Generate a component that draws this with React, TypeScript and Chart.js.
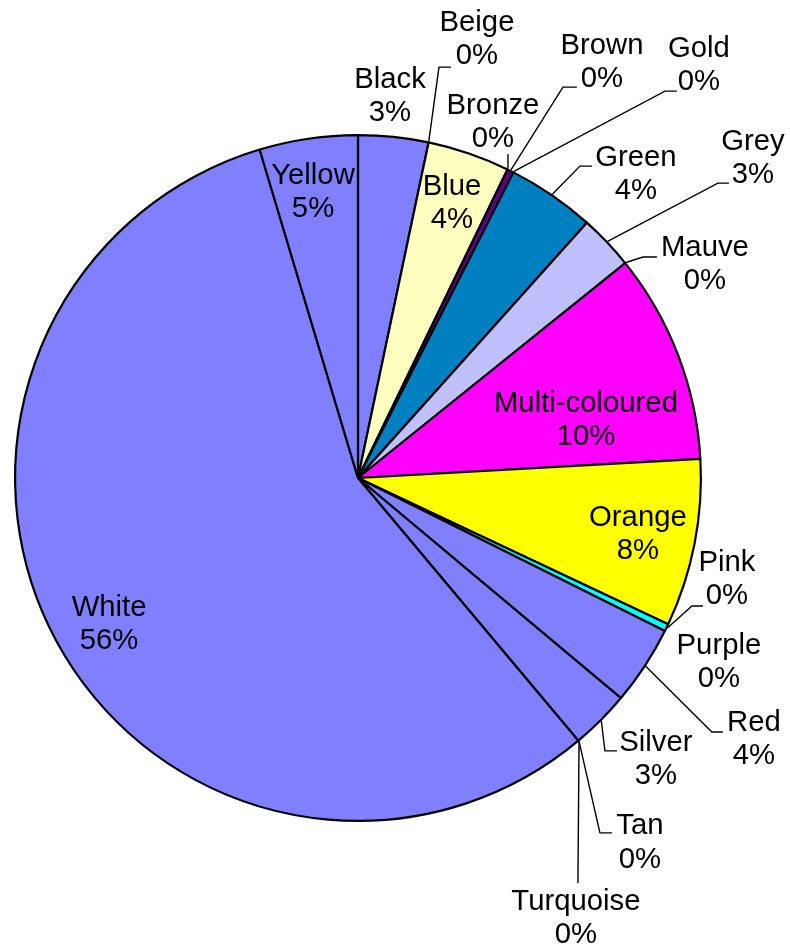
import React, { useEffect, useRef } from "react";
import { Chart, registerables } from "chart.js";

Chart.register(...registerables);

// ---- data ----
const categories = [
  "Black", "Beige", "Blue", "Bronze", "Brown", "Gold", "Green", "Grey", "Mauve",
  "Multi-coloured", "Orange", "Pink", "Purple", "Red", "Silver", "Tan", "Turquoise",
  "White", "Yellow",
];
const shares = [
  3.3, 0, 3.88, 0, 0.31, 0, 4.14, 2.59, 0,
  9.89, 7.9, 0.35, 0, 3.73, 2.8, 0, 0,
  56.48, 4.63,
];
const sliceColors = [
  "#8080FF", "#993366", "#FFFFC0", "#CCFFFF", "#600080", "#FF8080", "#0080C0", "#C0C0FF", "#000080",
  "#FF00FF", "#FFFF00", "#00FFFF", "#800080", "#8080FF", "#8080FF", "#8080FF", "#8080FF",
  "#8080FF", "#8080FF",
];

// ---- label layout (px offsets from pie centre at reference radius) ----
const REF_R = 343;
const FONT_SIZE = 29.3;
const LINE_H = 33.3;
type Lay = { l: [number, number]; e?: [number, number]; h?: [number, number] };
const labelLayout: Lay[] = [
  { l: [32, -381.5] },                                   // Black
  { l: [119, -438.5], e: [81, -411], h: [93, -411] },   // Beige
  { l: [94, -274.5] },                                   // Blue
  { l: [135, -355.5], e: [150, -324] },                  // Bronze
  { l: [244, -415.5], e: [205, -391], h: [219, -391] }, // Brown
  { l: [341, -412.5], e: [307, -387], h: [319, -387] }, // Gold
  { l: [278, -303.5], e: [222, -312], h: [234, -312] }, // Green
  { l: [395, -319.5], e: [360, -295], h: [371, -295] }, // Grey
  { l: [347, -213.5], e: [285, -221], h: [299, -221] }, // Mauve
  { l: [228, -57.5] },                                   // Multi-coloured
  { l: [280, 56.5] },                                    // Orange
  { l: [369, 101.5], e: [334, 128], h: [345, 128] },    // Pink
  { l: [361, 184.5] },                                   // Purple
  { l: [396, 261.5], e: [354, 254], h: [365, 254] },    // Red
  { l: [298, 281.5], e: [247, 273], h: [259, 273] },    // Silver
  { l: [282, 365], e: [242, 355], h: [254, 355] },      // Tan
  { l: [218, 440.5], e: [220, 405] },                    // Turquoise
  { l: [-249, 146.5] },                                  // White
  { l: [-45, -285.5] },                                  // Yellow
];

const labelPlugin = {
  id: "pieLabels",
  afterDatasetsDraw(chart: any) {
    const ctx: CanvasRenderingContext2D = chart.ctx;
    const meta = chart.getDatasetMeta(0);
    const data: number[] = chart.data.datasets[0].data;
    const total = data.reduce((a, b) => a + b, 0);
    ctx.save();
    meta.data.forEach((arc: any, i: number) => {
      const { x, y, startAngle, endAngle, outerRadius } = arc.getProps(
        ["x", "y", "startAngle", "endAngle", "outerRadius"], true
      );
      const s = outerRadius / REF_R;
      const lay = labelLayout[i];
      if (lay.e) {
        const mid = (startAngle + endAngle) / 2;
        const r0 = outerRadius + 1;
        ctx.beginPath();
        ctx.strokeStyle = "#000";
        ctx.lineWidth = 1.4;
        ctx.moveTo(x + r0 * Math.cos(mid), y + r0 * Math.sin(mid));
        ctx.lineTo(x + lay.e[0] * s, y + lay.e[1] * s);
        if (lay.h) ctx.lineTo(x + lay.h[0] * s, y + lay.h[1] * s);
        ctx.stroke();
      }
      const pct = Math.round((data[i] / total) * 100) + "%";
      const cx = x + lay.l[0] * s;
      const cy = y + lay.l[1] * s;
      ctx.fillStyle = "#000";
      ctx.font = `${FONT_SIZE}px "Liberation Sans", Arial, sans-serif`;
      ctx.textAlign = "center";
      ctx.textBaseline = "middle";
      ctx.fillText(categories[i], cx, cy - LINE_H / 2);
      ctx.fillText(pct, cx, cy + LINE_H / 2);
    });
    ctx.restore();
  },
};

export default function App() {
  const ref = useRef<HTMLCanvasElement | null>(null);
  useEffect(() => {
    if (!ref.current) return;
    const chart = new Chart(ref.current, {
      type: "pie",
      data: {
        labels: categories,
        datasets: [
          {
            data: shares,
            backgroundColor: sliceColors,
            borderColor: "#000000",
            borderWidth: 2.2,
          },
        ],
      },
      options: {
        responsive: false,
        animation: false,
        devicePixelRatio: 1,
        layout: { padding: { left: 14, top: 134, right: 88, bottom: 127 } },
        plugins: { legend: { display: false }, tooltip: { enabled: false } },
      },
      plugins: [labelPlugin],
    });
    return () => chart.destroy();
  }, []);
  return (
    <div style={{ position: "absolute", left: 0, top: 0, width: 790, height: 949, background: "#fff" }}>
      <canvas ref={ref} width={790} height={949} style={{ display: "block" }} />
    </div>
  );
}
